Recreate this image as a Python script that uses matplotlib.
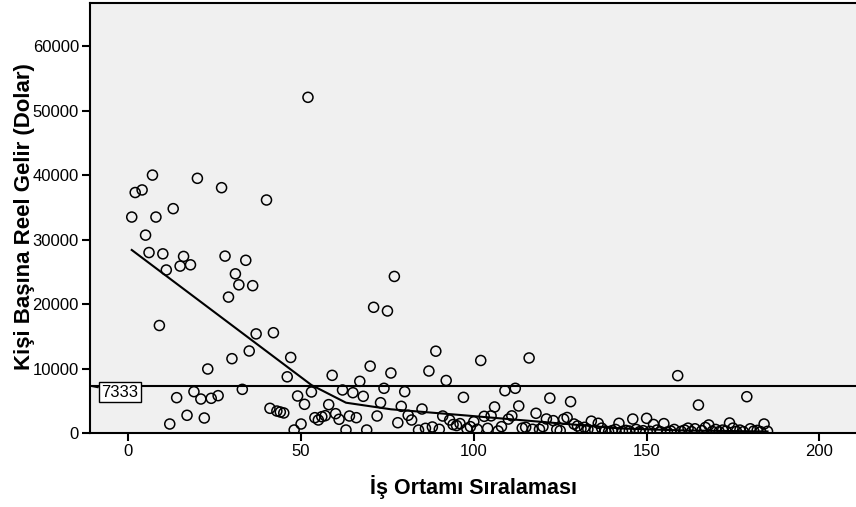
import matplotlib
matplotlib.use("Agg")
import matplotlib.pyplot as plt
import numpy as np

plt.rcParams['font.family'] = ['Liberation Sans', 'DejaVu Sans']

rank = [1, 2, 4, 5, 6, 7, 8, 9, 10, 11, 12, 13, 14, 15, 16, 17, 18, 19, 20,
        21, 22, 23, 24, 26, 27, 28, 29, 30, 31, 32, 33, 34, 35, 36, 37, 40,
        41, 42, 43, 44, 45, 46, 47, 48, 49, 50, 51, 52, 53, 54, 55, 56, 57,
        58, 59, 60, 61, 62, 63, 64, 65, 66, 67, 68, 69, 70, 71, 72, 73, 74,
        75, 76, 77, 78, 79, 80, 81, 82, 84, 85, 86, 87, 88, 89, 90, 91, 92,
        93, 94, 95, 96, 97, 98, 99, 100, 101, 102, 103, 104, 105, 106, 107,
        108, 109, 110, 111, 112, 113, 114, 115, 116, 117, 118, 119, 120, 121,
        122, 123, 124, 125, 126, 127, 128, 129, 130, 131, 132, 133, 134, 135,
        136, 137, 138, 139, 140, 141, 142, 143, 144, 145, 146, 147, 148, 149,
        150, 151, 152, 153, 154, 155, 156, 157, 158, 159, 160, 161, 162, 163,
        164, 165, 166, 167, 168, 169, 170, 171, 172, 173, 174, 175, 176, 177,
        178, 179, 180, 181, 182, 183, 184, 185]
income = [33500, 37300, 37700, 30700, 28000, 40000, 33500, 16700, 27800, 25300,
          1440, 34800, 5520, 25900, 27400, 2790, 26100, 6450, 39500,
          5310, 2370, 9960, 5420, 5830, 38050, 27450, 21100, 11560, 24700,
          23000, 6810, 26800, 12750, 22870, 15400, 36140,
          3870, 15580, 3450, 3300, 3150, 8750, 11750, 510, 5780, 1440, 4490,
          52050, 6400, 2420, 2060, 2570, 2730,
          4440, 8980, 3040, 2170, 6710, 510, 2680, 6290, 2420, 8050, 5730, 510,
          10400, 19520, 2680, 4740, 6970,
          18950, 9340, 24300, 1640, 4180, 6450, 2790, 2060, 500, 3760, 770,
          9650, 980, 12720, 620, 2680, 8180,
          2060, 1350, 1200, 1500, 5570, 700, 1030, 1800, 620, 11280, 2630, 770,
          2700, 4080, 360,
          1030, 6600, 2200, 2700, 6970, 4230, 800, 930, 11670, 620, 3100, 620,
          1030, 2220,
          5450, 1960, 600, 410, 2200, 2450, 4900, 1440, 1130, 700, 930, 620,
          1880, 500,
          1550, 800, 360, 250, 410, 600, 1550, 300, 450, 350, 2210, 600, 250, 400,
          2320, 300, 1370, 500, 250, 1500, 200, 350, 600, 8930, 300, 500, 800, 250,
          700, 4380, 400, 900, 1290, 300, 600, 250, 500, 350, 1600, 800, 300, 500,
          250, 5670, 700, 350, 450, 250, 1440, 300]

# Loess fit line
fit_x = [1, 53, 63, 76, 96, 142, 160, 185]
fit_y = [28400, 7480, 4740, 3720, 2840, 760, 450, 280]

ref_value = 7333
x_ticks = [0, 50, 100, 150, 200]
y_ticks = [0, 10000, 20000, 30000, 40000, 50000, 60000]

fig = plt.figure(figsize=(8.56, 5.07), dpi=100)
ax = fig.add_axes([90/856, (507-433.3)/507, 1 - 90/856, (433.3-3)/507])
ax.set_facecolor('#F0F0F0')

ax.set_xlim(-11.08, 210.6)
ax.set_ylim(0, 66660)

ax.axhline(ref_value, color='black', lw=1.5, zorder=2)
ax.plot(fit_x, fit_y, color='black', lw=1.5, zorder=3)
ax.scatter(rank, income, s=52, facecolors='none', edgecolors='black',
           linewidths=1.1, zorder=4)

# reference line label with leader
ax.annotate(str(ref_value), xy=(-11.08, ref_value), xycoords='data',
            xytext=(-2.4, ref_value - 950), textcoords='data',
            ha='center', va='center', fontsize=12,
            bbox=dict(boxstyle='square,pad=0.17', fc='white', ec='black', lw=1),
            arrowprops=dict(arrowstyle='-', color='black', lw=1,
                            shrinkA=0, shrinkB=0), zorder=5)

ax.set_xticks(x_ticks)
ax.set_yticks(y_ticks)
ax.tick_params(axis='both', direction='out', length=6, width=1.5,
               labelsize=12, colors='black', pad=2)
for s in ['left', 'top', 'bottom']:
    ax.spines[s].set_linewidth(1.5)
    ax.spines[s].set_color('black')
ax.spines['right'].set_visible(False)

ax.set_xlabel('İş Ortamı Sıralaması', fontsize=15.5, fontweight='bold')
ax.xaxis.set_label_coords(0.5, -0.098)
ax.set_ylabel('Kişi Başına Reel Gelir (Dolar)', fontsize=16, fontweight='bold',
              va='center')
ax.yaxis.set_label_coords(-0.085, 0.503)

fig.savefig('out.png', dpi=100)
